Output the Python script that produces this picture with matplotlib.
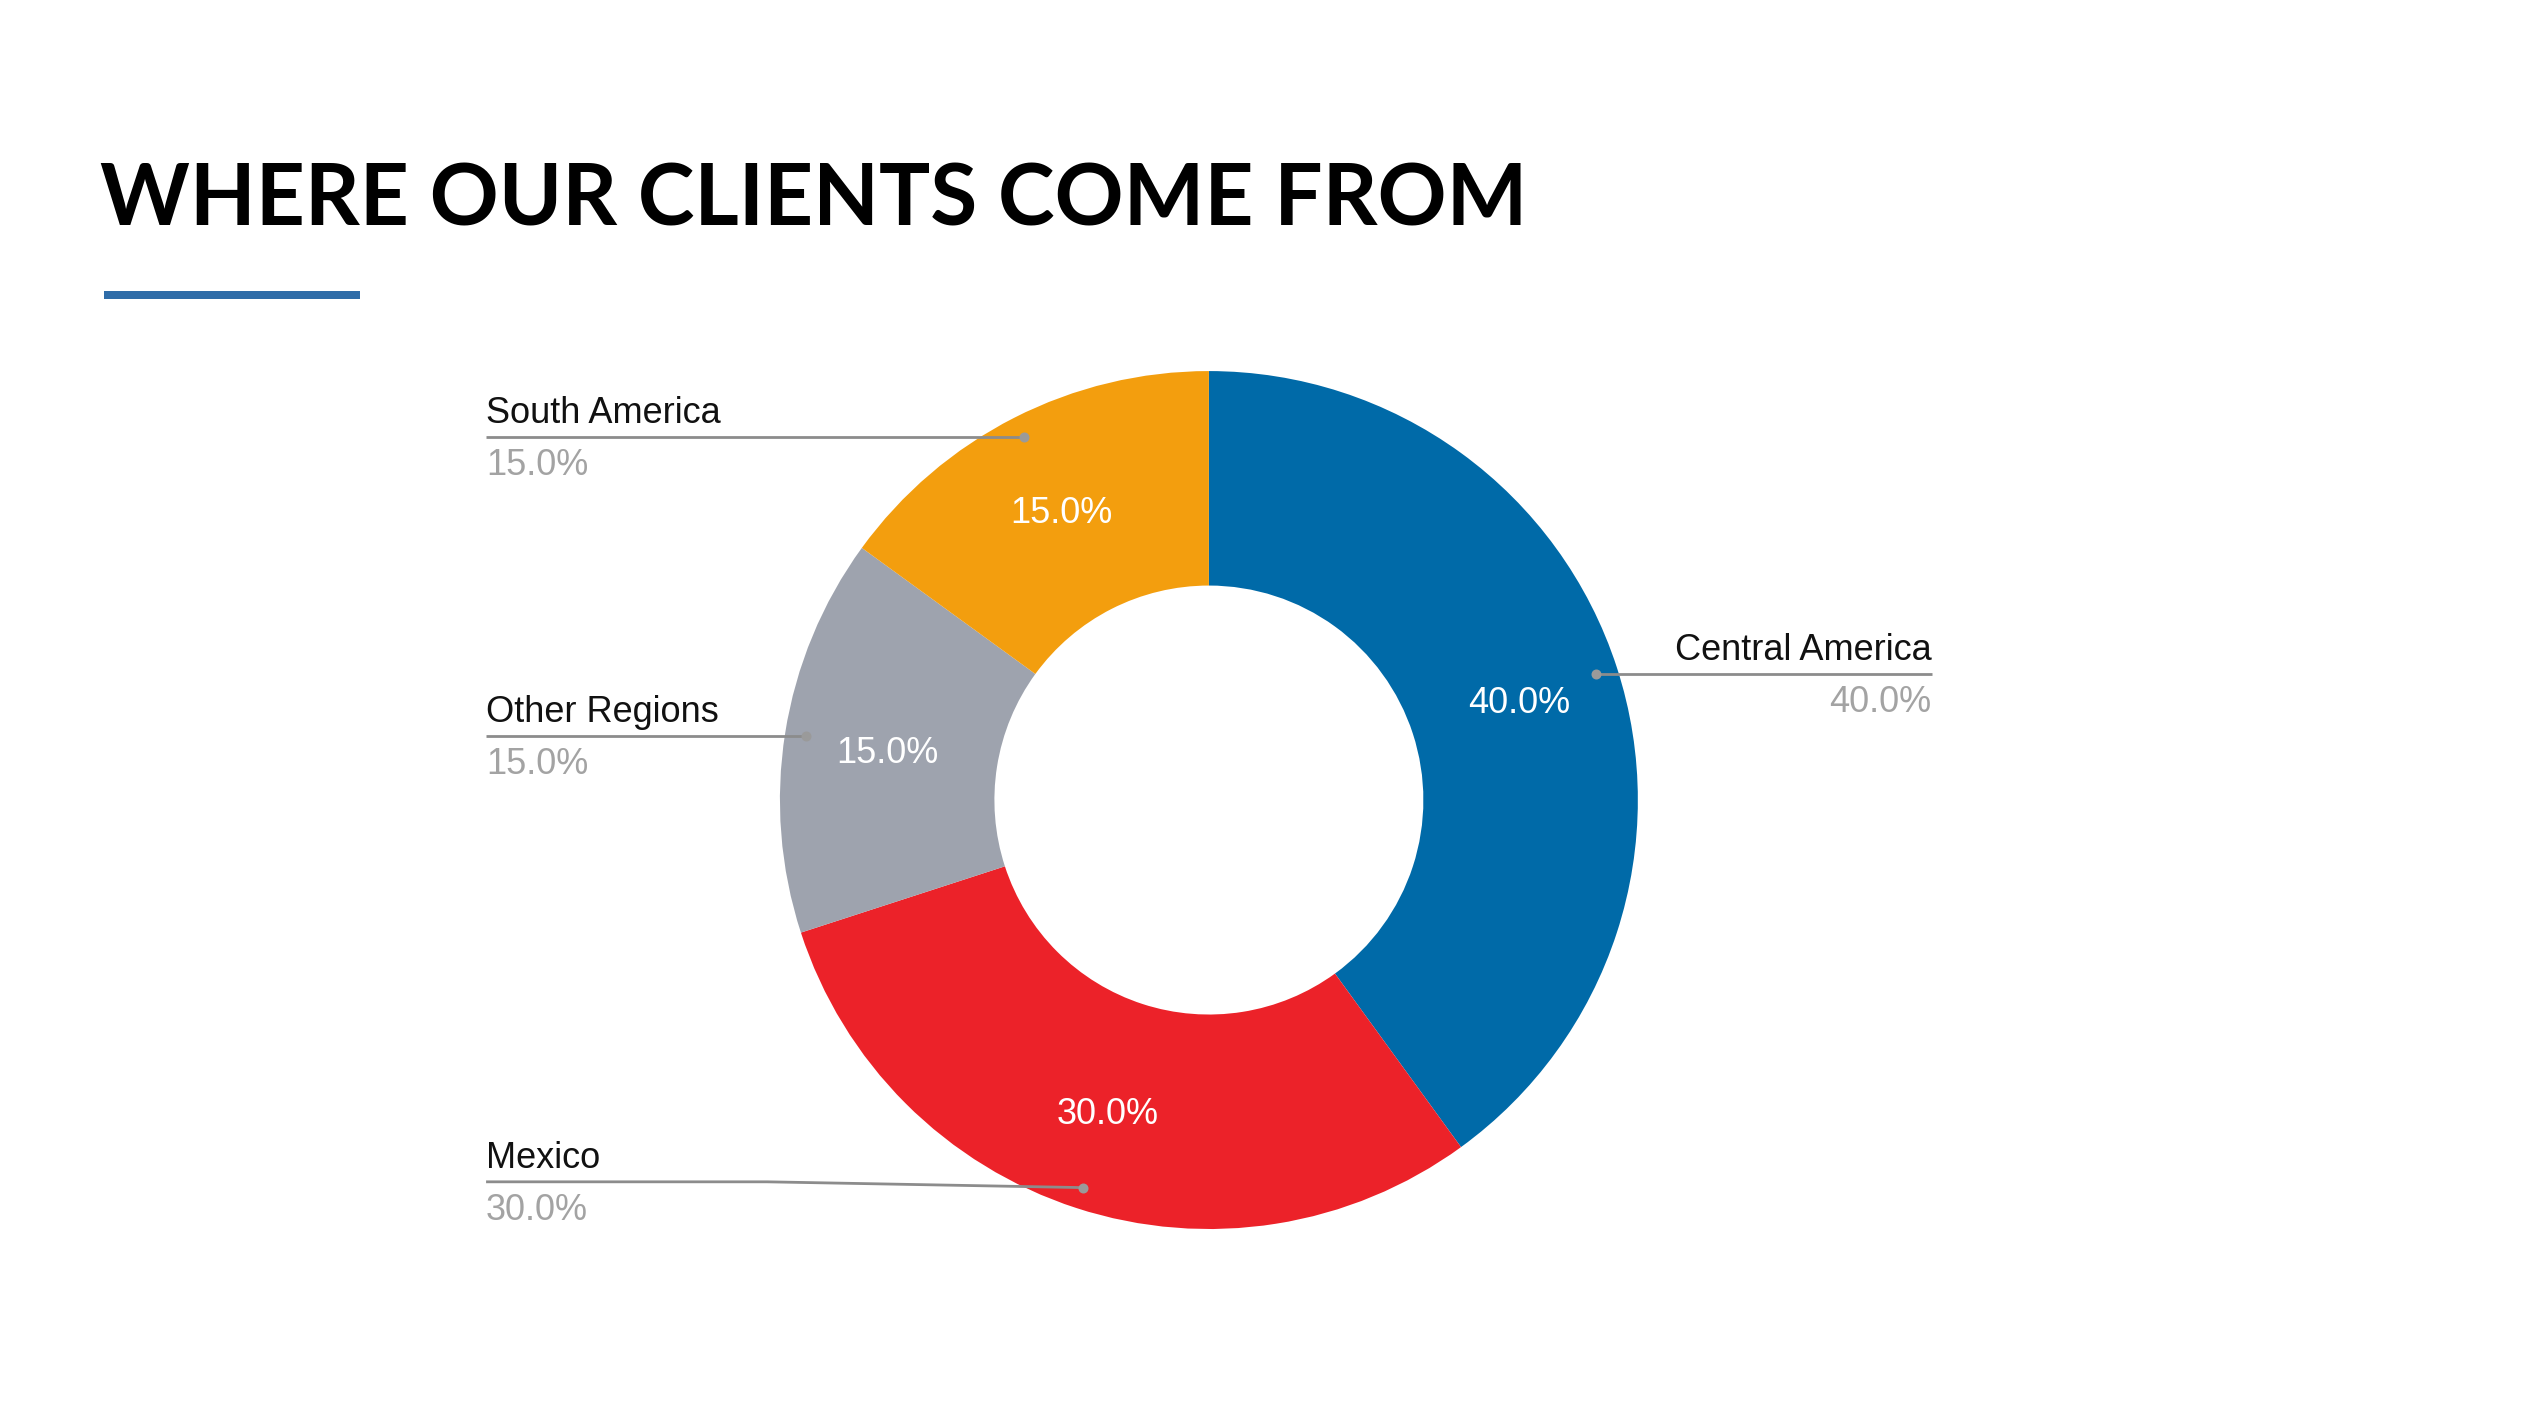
import numpy as np
import matplotlib.pyplot as plt
from matplotlib.patches import Rectangle

labels = ["Central America", "Mexico", "Other Regions", "South America"]
shares = [40.0, 30.0, 15.0, 15.0]
colors = ["#006AA8", "#EC2229", "#9EA3AE", "#F39E0E"]

title = "WHERE OUR CLIENTS COME FROM"

plt.rcParams['font.family'] = ['Liberation Sans', 'DejaVu Sans']

fig = plt.figure(figsize=(12.64, 7.06), dpi=200)
fig.patch.set_facecolor("white")

# title and the short blue rule under it
fig.text(100 / 2528, 1 - 225 / 1412, title, fontsize=30.8, fontweight="bold",
         family=["Lato", "DejaVu Sans"], color="#000000", va="baseline", ha="left")
fig.add_artist(Rectangle((104 / 2528, 1 - 299 / 1412), 256 / 2528, 8 / 1412,
                         transform=fig.transFigure, color="#2E6CA8", lw=0))

ax = fig.add_axes([0.3085, 0.1296, 0.3394, 0.6076])
wedges, _, autotexts = ax.pie(shares, colors=colors, startangle=90, counterclock=False,
                              radius=1.0, wedgeprops=dict(width=0.5, linewidth=0),
                              autopct="%.1f%%", pctdistance=0.76,
                              textprops=dict(color="white", fontsize=13))
for t in autotexts:
    t.set_va("center_baseline")
ax.set_xlim(-1, 1)
ax.set_ylim(-1, 1)
ax.set_aspect("equal")
ax.axis("off")

# leader lines with name above and share below
line_y_override = {"Mexico": -0.89}
label_x = 1.685
for w, name, val in zip(wedges, labels, shares):
    ang = np.deg2rad((w.theta1 + w.theta2) / 2)
    xd, yd = 0.95 * np.cos(ang), 0.95 * np.sin(ang)
    side = 1 if xd > 0 else -1
    yl = line_y_override.get(name, yd)
    xl = side * label_x
    xk = side * 1.03
    ax.plot([xl, xk, xd], [yl, yl, yd], color="#8C8C8C", lw=1.0, clip_on=False,
            solid_capstyle="butt")
    ax.plot([xd], [yd], "o", color="#9A9A9A", ms=2.6, clip_on=False)
    ha = "left" if side < 0 else "right"
    ax.annotate(name, (xl, yl), xytext=(0, 5), textcoords="offset points",
                ha=ha, va="baseline", fontsize=13, color="#111111", annotation_clip=False)
    ax.annotate(f"{val:.1f}%", (xl, yl), xytext=(0, -4), textcoords="offset points",
                ha=ha, va="top", fontsize=13, color="#A3A3A3", annotation_clip=False)

fig.savefig("out.png", dpi=200, facecolor="white")
